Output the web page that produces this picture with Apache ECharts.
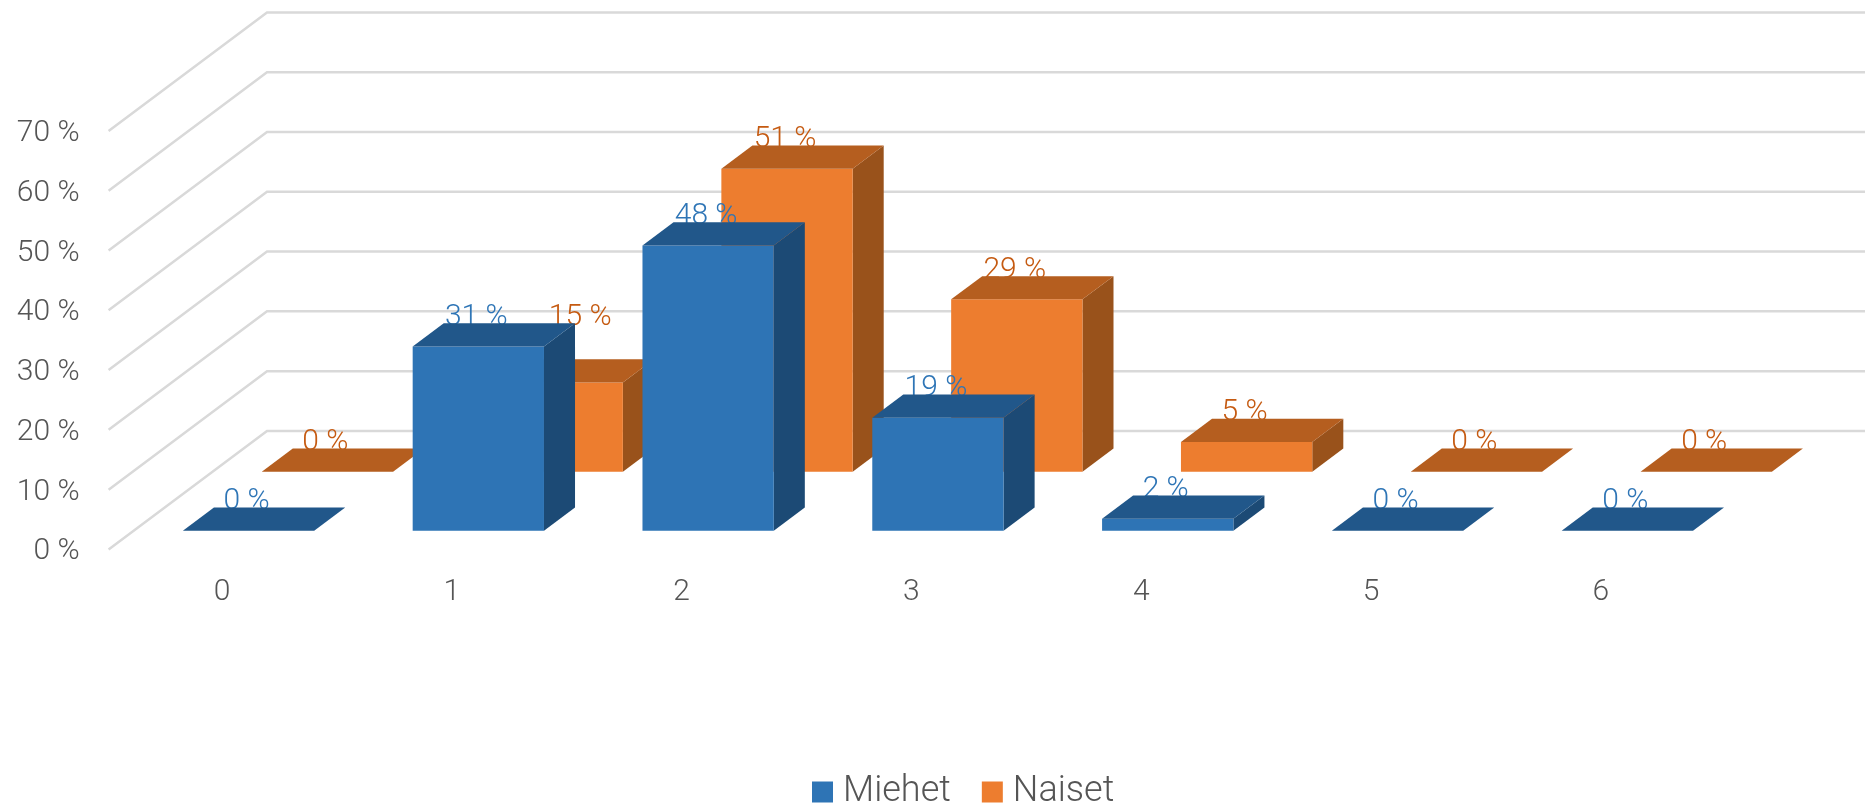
<!DOCTYPE html>
<html>
<head>
<meta charset="utf-8">
<style>html,body{margin:0;padding:0;background:#fff}#c{width:1865px;height:805px}</style>
<script src="https://cdn.jsdelivr.net/npm/echarts@6/dist/echarts.min.js"></script>
</head>
<body>
<div id="c"></div>
<script>
const categories = ['0', '1', '2', '3', '4', '5', '6'];
const miehet = [0, 31, 48, 19, 2, 0, 0];
const naiset = [0, 15, 51, 29, 5, 0, 0];
const wallTicks = [0, 10, 20, 30, 40, 50, 60, 70];

const FONT = 'Roboto, "Open Sans", sans-serif';
const WALL_DX = 158.4, WALL_DY = -118.5;
const BOX_DEPTH = 0.196, FRONT_SCALE = 0.994, BOX_WIDTH = 131.3;
const labelNudge = { Naiset: { 1: [25, -36] } };

const chart = echarts.init(document.getElementById('c'), null, { renderer: 'canvas' });

function wallItem(params, api) {
  const v = api.value(1);
  const y = api.coord([0, v])[1];
  const x0 = params.coordSys.x;
  return {
    type: 'group',
    silent: true,
    children: [
      {
        type: 'polyline',
        shape: { points: [[x0, y], [x0 + WALL_DX, y + WALL_DY], [api.getWidth() + 20, y + WALL_DY]] },
        style: { stroke: '#d9d9d9', lineWidth: 2.5, fill: null }
      },
      {
        type: 'text',
        style: {
          text: v + ' %', x: x0 - 29, y: y + 2.5,
          textAlign: 'right', textVerticalAlign: 'middle',
          fill: '#555555', font: '300 30px ' + FONT
        }
      }
    ]
  };
}

function boxSeries(name, values, depthFrac, colors, labelColor) {
  return {
    type: 'custom',
    name: name,
    coordinateSystem: 'cartesian2d',
    itemStyle: { color: colors.front },
    encode: { x: 0, y: 1 },
    data: values.map((v, i) => [i, v]),
    renderItem(params, api) {
      const idx = api.value(0), v = api.value(1);
      const base = api.coord([idx, 0]);
      const h = api.size([0, v])[1] * FRONT_SCALE;
      const cx = base[0] + WALL_DX * depthFrac, by = base[1] + WALL_DY * depthFrac;
      const l = cx - BOX_WIDTH / 2, r = cx + BOX_WIDTH / 2, t = by - h;
      const dx = WALL_DX * BOX_DEPTH, dy = WALL_DY * BOX_DEPTH;
      const nudge = (labelNudge[name] || {})[idx] || [0, 0];
      const children = [
        {
          type: 'text',
          style: {
            text: v + ' %', x: cx - 2 + nudge[0], y: t + dy + 9 + nudge[1],
            textAlign: 'center', textVerticalAlign: 'bottom',
            fill: labelColor, font: '300 30px ' + FONT
          }
        }
      ];
      if (h > 0) {
        children.push({ type: 'polygon', shape: { points: [[r, t], [r + dx, t + dy], [r + dx, by + dy], [r, by]] }, style: { fill: colors.side } });
        children.push({ type: 'rect', shape: { x: l, y: t, width: BOX_WIDTH, height: h }, style: { fill: colors.front } });
      }
      children.push({ type: 'polygon', shape: { points: [[l, t], [l + dx, t + dy], [r + dx, t + dy], [r, t]] }, style: { fill: colors.top } });
      return { type: 'group', children };
    }
  };
}

chart.setOption({
  animation: false,
  backgroundColor: '#fff',
  grid: { left: 108.6, top: 131, width: 1608.6, height: 418.4, containLabel: false },
  xAxis: {
    type: 'category',
    data: categories,
    axisLine: { show: false },
    axisTick: { show: false },
    axisLabel: { color: '#555555', fontSize: 30, fontWeight: 300, fontFamily: FONT, margin: 28, padding: [0, 3, 0, 0] }
  },
  yAxis: {
    type: 'value',
    min: 0, max: 70, interval: 10,
    axisLine: { show: false },
    axisTick: { show: false },
    splitLine: { show: false },
    axisLabel: { show: false }
  },
  legend: {
    data: ['Miehet', 'Naiset'],
    left: 812, top: 774,
    padding: 0,
    icon: 'rect',
    itemWidth: 21, itemHeight: 21, itemGap: 31,
    textStyle: { color: '#555555', fontSize: 36, fontWeight: 300, fontFamily: FONT, padding: [0, 0, 0, 5] }
  },
  series: [
    {
      type: 'custom', name: 'wall', silent: true,
      encode: { x: 0, y: 1 },
      data: wallTicks.map(v => [0, v]),
      renderItem: wallItem
    },
    boxSeries('Naiset', naiset, 0.656, { front: '#ed7d2f', top: '#b55e1f', side: '#99521b' }, '#c55a11'),
    boxSeries('Miehet', miehet, 0.158, { front: '#2e74b5', top: '#21578a', side: '#1c4a75' }, '#2e75b6')
  ]
});
</script>
</body>
</html>
